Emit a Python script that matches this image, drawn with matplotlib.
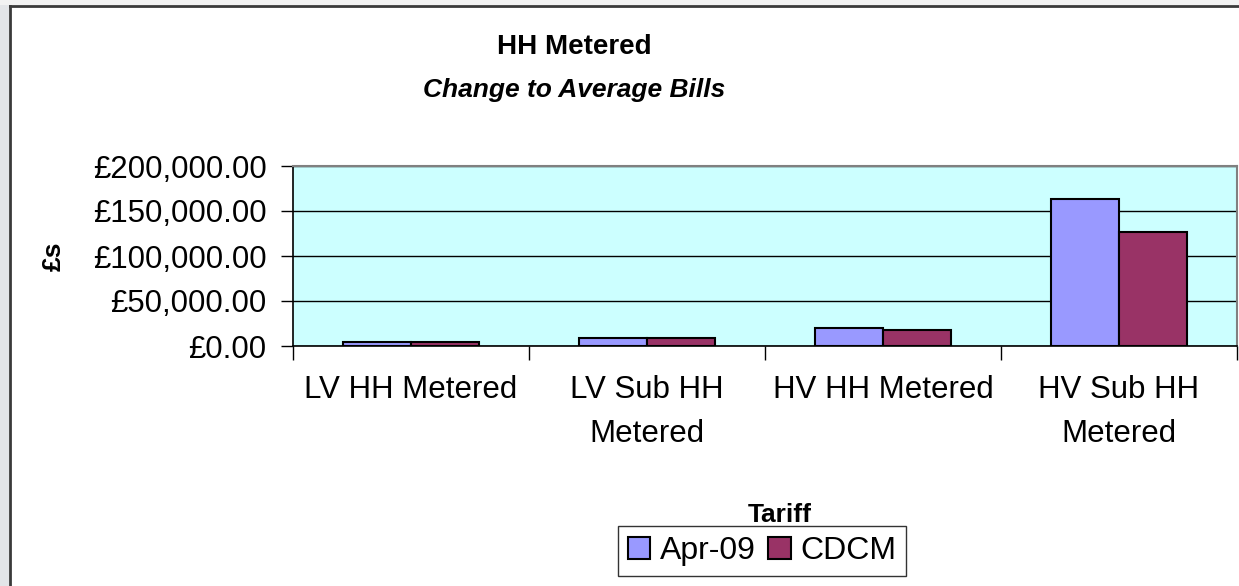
import matplotlib
matplotlib.use("Agg")
import matplotlib.pyplot as plt
from matplotlib.patches import Rectangle
from matplotlib.lines import Line2D
from matplotlib.ticker import FuncFormatter, FixedLocator
import numpy as np

categories = ["LV HH Metered", "LV Sub HH\nMetered", "HV HH Metered", "HV Sub HH\nMetered"]
apr09 = [4800, 9300, 20100, 163000]
cdcm = [4600, 9200, 17900, 126800]
series_names = ["Apr-09", "CDCM"]
yticks = [0, 50000, 100000, 150000, 200000]

plt.rcParams['font.family'] = ['Liberation Sans', 'DejaVu Sans']

W, H = 1239, 586
fig = plt.figure(figsize=(W / 100, H / 100), dpi=100)
fig.patch.set_facecolor('white')

# outer frame decorations
fig.patches.append(Rectangle((0, 0), 9 / W, 1, transform=fig.transFigure,
                             facecolor='#e3e5e8', edgecolor='none', zorder=0))
fig.patches.append(Rectangle((0, 1 - 5 / H), 1, 5 / H, transform=fig.transFigure,
                             facecolor='#f2f2f2', edgecolor='none', zorder=0))
fig.lines.append(Line2D([9.5 / W, 9.5 / W], [0, 1 - 5.5 / H], transform=fig.transFigure,
                        color='#3a3a3a', lw=2))
fig.lines.append(Line2D([9.5 / W, 1], [1 - 5.5 / H, 1 - 5.5 / H], transform=fig.transFigure,
                        color='#3a3a3a', lw=2))

left, right, top, bottom = 293, 1237, 166, 346
ax = fig.add_axes([left / W, 1 - bottom / H, (right - left) / W, (bottom - top) / H])
ax.set_facecolor('#CCFFFF')

x = np.arange(len(categories))
bw = 0.29
ax.bar(x - bw / 2, apr09, bw, color='#9999FF', edgecolor='black', linewidth=1.5,
       label=series_names[0], zorder=3)
ax.bar(x + bw / 2, cdcm, bw, color='#993366', edgecolor='black', linewidth=1.5,
       label=series_names[1], zorder=3)

ax.set_xlim(-0.5, len(categories) - 0.5)
ax.set_ylim(0, 200000)
ax.set_yticks(yticks)
ax.yaxis.set_major_formatter(FuncFormatter(lambda v, p: "£{:,.2f}".format(v)))
ax.grid(axis='y', color='black', lw=1, zorder=1)
ax.set_axisbelow(True)

ax.set_xticks(x)
ax.set_xticklabels(categories, fontsize=22.5, linespacing=1.6)
ax.xaxis.set_minor_locator(FixedLocator(np.arange(-0.5, len(categories), 1.0)))
ax.tick_params(axis='x', which='major', length=0, pad=21)
ax.tick_params(axis='x', which='minor', length=10, width=1, direction='out', color='black')
ax.tick_params(axis='y', length=9, width=1, direction='out', labelsize=22.5, pad=10)

for s in ['top', 'right']:
    ax.spines[s].set_color('#808080')
    ax.spines[s].set_linewidth(1.5)
for s in ['left', 'bottom']:
    ax.spines[s].set_color('black')
    ax.spines[s].set_linewidth(1.2)

ax.set_ylabel("£s", fontsize=19, fontweight='bold')
ax.yaxis.set_label_coords((66 - left) / (right - left), 0.5)
ax.set_xlabel("Tariff", fontsize=19, fontweight='bold')
ax.xaxis.set_label_coords((780 - left) / (right - left), (bottom - 503) / (bottom - top))

fig.text(574 / W, 1 - 47 / H, "HH Metered", ha='center', va='center',
         fontsize=20, fontweight='bold')
fig.text(574 / W, 1 - 90 / H, "Change to Average Bills", ha='center', va='center',
         fontsize=19, fontweight='bold', fontstyle='italic')

leg = fig.legend(loc='center', bbox_to_anchor=(762 / W, 1 - 551 / H), ncol=2,
                 fontsize=23, frameon=True, fancybox=False, edgecolor='black',
                 handlelength=0.7, handleheight=0.7, handletextpad=0.3,
                 columnspacing=0.4, borderpad=0.3, borderaxespad=0)
leg.get_frame().set_linewidth(1)

fig.savefig("out.png", dpi=100)
